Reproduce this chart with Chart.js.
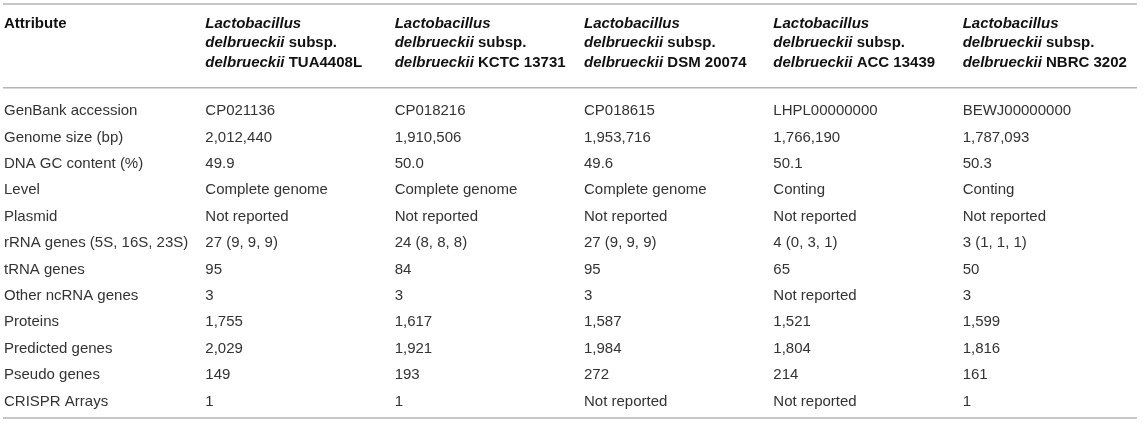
<!DOCTYPE html>
<html>
<head>
<meta charset="utf-8">
<script src="https://cdn.jsdelivr.net/npm/chart.js@4"></script>
<style>
  html, body { margin: 0; padding: 0; background: #fff; }
  canvas { display: block; }
</style>
</head>
<body>
<canvas id="table" width="1145" height="426"></canvas>
<script>
// table content
const genus = "Lactobacillus";
const species = "delbrueckii";
const strains = ["TUA4408L", "KCTC 13731", "DSM 20074", "ACC 13439", "NBRC 3202"];

const attributes = [
  "GenBank accession",
  "Genome size (bp)",
  "DNA GC content (%)",
  "Level",
  "Plasmid",
  "rRNA genes (5S, 16S, 23S)",
  "tRNA genes",
  "Other ncRNA genes",
  "Proteins",
  "Predicted genes",
  "Pseudo genes",
  "CRISPR Arrays",
];

const tua4408l = ["CP021136", "2,012,440", "49.9", "Complete genome", "Not reported", "27 (9, 9, 9)", "95", "3", "1,755", "2,029", "149", "1"];
const kctc13731 = ["CP018216", "1,910,506", "50.0", "Complete genome", "Not reported", "24 (8, 8, 8)", "84", "3", "1,617", "1,921", "193", "1"];
const dsm20074 = ["CP018615", "1,953,716", "49.6", "Complete genome", "Not reported", "27 (9, 9, 9)", "95", "3", "1,587", "1,984", "272", "Not reported"];
const acc13439 = ["LHPL00000000", "1,766,190", "50.1", "Conting", "Not reported", "4 (0, 3, 1)", "65", "Not reported", "1,521", "1,804", "214", "Not reported"];
const nbrc3202 = ["BEWJ00000000", "1,787,093", "50.3", "Conting", "Not reported", "3 (1, 1, 1)", "50", "3", "1,599", "1,816", "161", "1"];

const columns = [attributes, tua4408l, kctc13731, dsm20074, acc13439, nbrc3202];
const columnKeys = ["Attribute"].concat(strains);

const FONT = '"Liberation Sans", Arial, sans-serif';
const BODY_COLOR = "#333";
const HEAD_COLOR = "#111";
const RULE_COLOR = "#b4b4b4";

const tablePlugin = {
  id: "tableText",
  afterDraw(chart) {
    const ctx = chart.ctx;
    const x = chart.scales.x;
    const y = chart.scales.y;
    const area = chart.chartArea;
    const band = x.width / columnKeys.length;
    const left = (i) => x.getPixelForValue(i) - band / 2 + (i === 0 ? 0 : 12);
    const ruleL = area.left - 1;
    const ruleR = area.right - 3;

    ctx.save();
    // rules
    ctx.strokeStyle = RULE_COLOR;
    ctx.lineWidth = 1.5;
    [4, area.top - 10, area.bottom + 3.5].forEach((ry) => {
      ctx.beginPath();
      ctx.moveTo(ruleL, ry);
      ctx.lineTo(ruleR, ry);
      ctx.stroke();
    });

    // header
    ctx.fillStyle = HEAD_COLOR;
    ctx.textBaseline = "middle";
    ctx.textAlign = "left";
    const bold = "bold 15px " + FONT;
    const boldItalic = "italic bold 15px " + FONT;
    const headY = [23.5, 43, 62.5];
    ctx.font = bold;
    ctx.fillText(columnKeys[0], left(0), headY[0]);
    strains.forEach((s, k) => {
      const hx = left(k + 1);
      ctx.font = boldItalic;
      ctx.fillText(genus, hx, headY[0]);
      const w = ctx.measureText(species).width;
      ctx.fillText(species, hx, headY[1]);
      ctx.fillText(species, hx, headY[2]);
      ctx.font = bold;
      ctx.fillText(" subsp.", hx + w, headY[1]);
      ctx.fillText(" " + s, hx + w, headY[2]);
    });

    // body cells
    ctx.font = "15px " + FONT;
    ctx.fillStyle = BODY_COLOR;
    columns.forEach((col, ci) => {
      col.forEach((val, ri) => {
        ctx.fillText(val, left(ci), y.getPixelForValue(ri));
      });
    });
    ctx.restore();
  },
};

new Chart(document.getElementById("table"), {
  type: "scatter",
  data: { datasets: [] },
  options: {
    responsive: false,
    animation: false,
    layout: { padding: { left: 4, right: 5, top: 97.8, bottom: 11.4 } },
    plugins: { legend: { display: false }, tooltip: { enabled: false } },
    scales: {
      x: { type: "category", labels: columnKeys, offset: true, display: false },
      y: { type: "category", labels: attributes, offset: true, display: false },
    },
  },
  plugins: [tablePlugin],
});
</script>
</body>
</html>
